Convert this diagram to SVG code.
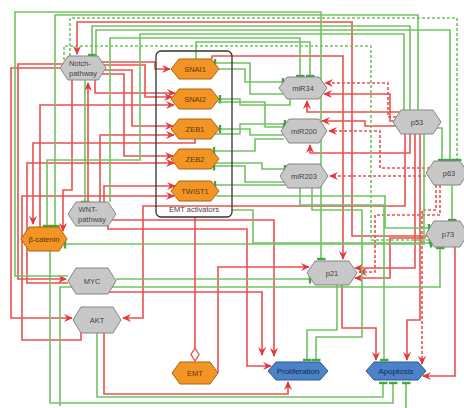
<svg xmlns="http://www.w3.org/2000/svg" width="464" height="408" viewBox="0 0 464 408">
<defs>
<style>
.r{fill:none;stroke:#e8514f;stroke-width:1.6;marker-end:url(#a)}
.rd{fill:none;stroke:#e8514f;stroke-width:1.6;stroke-dasharray:3 2;marker-end:url(#a)}
.g{fill:none;stroke:#72c263;stroke-width:1.6;marker-end:url(#t)}
.gd{fill:none;stroke:#72c263;stroke-width:1.6;stroke-dasharray:3 2;marker-end:url(#t)}
.rl{fill:none;stroke:#e8514f;stroke-width:1.6}
.o{fill:#f39524;stroke:#a8620e;stroke-width:1}
.gy{fill:#c8c8c8;stroke:#858585;stroke-width:1}
.bl{fill:#4c82c8;stroke:#2d568f;stroke-width:1}
text{font-family:"Liberation Sans",Arial,sans-serif;font-size:7.5px;text-anchor:middle}
.to{fill:#5a3510}
.tg{fill:#444}
.tb{fill:#14285a;font-size:8px}
</style>
<marker id="a" viewBox="0 0 10 10" refX="9" refY="5" markerWidth="9" markerHeight="9" markerUnits="userSpaceOnUse" orient="auto"><path d="M0,0.5 L10,5 L0,9.5 L3.5,5 z" fill="#e5383c"/></marker>
<marker id="t" viewBox="0 0 4 9" refX="2" refY="4.5" markerWidth="4" markerHeight="9" markerUnits="userSpaceOnUse" orient="auto"><path d="M2,0 V9" stroke="#3faa3a" stroke-width="2.4"/></marker>
</defs>
<rect width="464" height="408" fill="#fff"/>
<g id="connectors">
<path class="r" d="M427,236 H352 V22 H77 V54"/>
<path class="r" d="M60,68 H11 V318 H72"/>
<path class="r" d="M101,62 H155 V69 H170"/>
<path class="r" d="M104,65 H145 V97 H172"/>
<path class="r" d="M105,70 H132 V126 H173"/>
<path class="r" d="M102,74 H124 V156 H173"/>
<path class="r" d="M95,80 V93 H175"/>
<path class="r" d="M88,202 V83"/>
<path class="r" d="M40,227 V105 H174"/>
<path class="r" d="M68,283 H27 V163 H174"/>
<path class="r" d="M100,202 V135 H174"/>
<path class="r" d="M104,202 V186 H175"/>
<path class="r" d="M195,139 V143 H33 V224"/>
<path class="r" d="M72,80 V190 H63 V231"/>
<path class="r" d="M81,333 V340 H22 V196 H174"/>
<path class="r" d="M63,64 H18 V279 H66"/>
<path class="r" d="M405,134 V206 H143 V318 H123"/>
<path class="r" d="M212,59 V56 H343 V259"/>
<path class="r" d="M112,220 H274 V356"/>
<path class="r" d="M109,292 H262 V355"/>
<path class="r" d="M108,226 V229 H247 V366 H271"/>
<path class="r" d="M104,333 V394 H288 V382"/>
<path class="r" d="M218,373 V267 H309"/>
<path class="r" d="M394,121 H390 V94 H324"/>
<path class="r" d="M401,112 H307 V101"/>
<path class="r" d="M396,126 H365 V121 H322"/>
<path class="r" d="M410,134 V153 H310 V145"/>
<path class="r" d="M415,134 V268 H355"/>
<path class="r" d="M426,238 H390 V278 H355"/>
<path class="r" d="M420,134 V320 H407 V360"/>
<path class="r" d="M455,247 V376 H423"/>
<path class="r" d="M342,285 V328 H376 V360"/>
<path class="rd" d="M396,117 H388 V83 H325"/>
<path class="rd" d="M430,168 H380 V131 H329"/>
<path class="rd" d="M426,176 H330"/>
<path class="rd" d="M440,185 V215 H375 V272 H359"/>
<path class="rd" d="M436,185 V210 H422 V364"/>
<path class="g" d="M68,276 H15 V12 H321 V259"/>
<path class="g" d="M418,110 V15 H55 V226"/>
<path class="g" d="M410,110 V26 H92 V55"/>
<path class="g" d="M96,56 V30 H450 V160"/>
<path class="g" d="M404,110 V34 H140 V160 H47 V226"/>
<path class="g" d="M110,202 V38 H300 V76"/>
<path class="g" d="M85,80 V202"/>
<path class="g" d="M196,59 V42 H310 V76"/>
<path class="g" d="M50,251 V403 H393 V383"/>
<path class="g" d="M97,333 V397 H383 V383"/>
<path class="g" d="M406,408 V383"/>
<path class="g" d="M116,279 H310"/>
<path class="g" d="M60,406 V287 H440 V248"/>
<path class="g" d="M216,196 H385 V228 H429"/>
<path class="g" d="M232,210 H253 V243 H431"/>
<path class="g" d="M283,94 H250 V63 H215"/>
<path class="g" d="M219,69 H245 V82 H283"/>
<path class="g" d="M290,99 V105 H240 V99 H220"/>
<path class="g" d="M283,135 H250 V129 H220"/>
<path class="g" d="M215,134 H240 V124 H285"/>
<path class="g" d="M284,139 H255 V151 H214"/>
<path class="g" d="M216,163 H262 V169 H285"/>
<path class="g" d="M284,182 H245 V166 H214"/>
<path class="g" d="M286,185 H215"/>
<path class="g" d="M218,102 H265 V127 H284"/>
<path class="g" d="M337,285 V330 H307 V360"/>
<path class="g" d="M312,188 V210 H362 V337 H316 V360"/>
<path class="g" d="M300,188 V205 H384 V360"/>
<path class="g" d="M424,134 V244 H65"/>
<path class="g" d="M437,128 H442 V160"/>
<path class="g" d="M452,185 V220"/>
<path class="gd" d="M70,56 V18 H457 V160"/>
<path class="gd" d="M64,60 V46 H371 V240 H430"/>
<path class="rl" d="M195,217 V348"/>
<polygon points="195,348 199,354.5 195,361 191,354.5" fill="#fff" stroke="#e8514f" stroke-width="1.4"/>
</g>
<g id="emt-activators">
<rect x="156" y="51" width="76" height="166" rx="5" fill="none" stroke="#333" stroke-width="1.3"/>
<text x="194" y="212" class="tg">EMT activators</text>
</g>
<g id="notch"><polygon class="gy" points="60,68 68,56 98,56 106,68 98,80 68,80"/><text x="80" y="66" class="tg">Notch-</text><text x="83" y="76" class="tg">pathway</text></g>
<g id="snai1"><polygon class="o" points="171,69 179,59 211,59 219,69 211,79 179,79"/><text x="195" y="72" class="to">SNAI1</text></g>
<g id="snai2"><polygon class="o" points="171,99 179,89 211,89 219,99 211,109 179,109"/><text x="195" y="102" class="to">SNAI2</text></g>
<g id="zeb1"><polygon class="o" points="171,129 179,119 211,119 219,129 211,139 179,139"/><text x="195" y="132" class="to">ZEB1</text></g>
<g id="zeb2"><polygon class="o" points="171,159 179,149 211,149 219,159 211,169 179,169"/><text x="195" y="162" class="to">ZEB2</text></g>
<g id="twist1"><polygon class="o" points="171,191 179,181 211,181 219,191 211,201 179,201"/><text x="195" y="194" class="to">TWIST1</text></g>
<g id="mir34"><polygon class="gy" points="279,88 287,77 319,77 327,88 319,99 287,99"/><text x="303" y="91" class="tg">miR34</text></g>
<g id="mir200"><polygon class="gy" points="281,131 289,119 319,119 327,131 319,143 289,143"/><text x="304" y="134" class="tg">miR200</text></g>
<g id="mir203"><polygon class="gy" points="280,176 288,164 320,164 328,176 320,188 288,188"/><text x="304" y="179" class="tg">miR203</text></g>
<g id="p53"><polygon class="gy" points="393,122 401,110 433,110 441,122 433,134 401,134"/><text x="417" y="125" class="tg">p53</text></g>
<g id="p63"><polygon class="gy" points="426,173 434,161 460,161 468,173 460,185 434,185"/><text x="449" y="176" class="tg">p63</text></g>
<g id="p73"><polygon class="gy" points="426,234 434,221 460,221 468,234 460,247 434,247"/><text x="448" y="237" class="tg">p73</text></g>
<g id="p21"><polygon class="gy" points="307,273 315,261 349,261 357,273 349,285 315,285"/><text x="332" y="276" class="tg">p21</text></g>
<g id="proliferation"><polygon class="bl" points="268,371 276,362 320,362 328,371 320,380 276,380"/><text x="298" y="374" class="tb">Proliferation</text></g>
<g id="apoptosis"><polygon class="bl" points="366,371 374,362 418,362 426,371 418,380 374,380"/><text x="396" y="374" class="tb">Apoptosis</text></g>
<g id="beta-catenin"><polygon class="o" points="21,239 29,227 59,227 67,239 59,251 29,251"/><text x="44" y="242" class="to">β-catenin</text></g>
<g id="wnt"><polygon class="gy" points="68,214 76,202 108,202 116,214 108,226 76,226"/><text x="88" y="212" class="tg">WNT-</text><text x="92" y="222" class="tg">pathway</text></g>
<g id="myc"><polygon class="gy" points="68,281 76,268 108,268 116,281 108,294 76,294"/><text x="92" y="284" class="tg">MYC</text></g>
<g id="akt"><polygon class="gy" points="73,320 81,307 113,307 121,320 113,333 81,333"/><text x="97" y="323" class="tg">AKT</text></g>
<g id="emt"><polygon class="o" points="172,373 180,362 210,362 218,373 210,384 180,384"/><text x="195" y="376" class="to">EMT</text></g>
</svg>
